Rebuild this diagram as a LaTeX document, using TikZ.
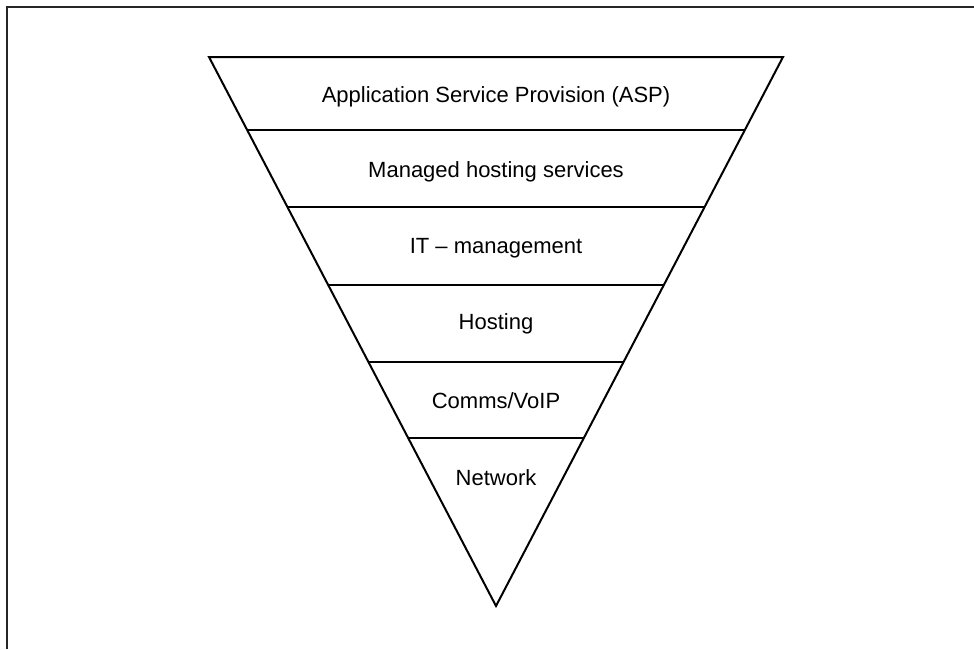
\documentclass[tikz,border=0pt]{standalone}
\usepackage{fontspec}
\setmainfont{Liberation Sans}
\usetikzlibrary{calc}
\begin{document}
\begin{tikzpicture}[x=1pt,y=-1pt,
  edge/.style={line width=2pt,line join=miter},
  frame/.style={line width=2pt,draw=black!85},
  lab/.style={font=\fontsize{22}{26}\selectfont,inner sep=0pt,anchor=center}]
\useasboundingbox (0,0) rectangle (974,649);
% frame (open on right and bottom)
\coordinate (f1) at (974,7);
\coordinate (f0) at (6.5,7);
\coordinate (f2) at (6.5,649);
\draw[frame] (f1) -- (f0) -- (f2);
% triangle
\coordinate (tl) at (209,57);
\coordinate (tr) at (783,57);
\coordinate (ap) at (496,606);
\draw[edge] (tl) -- (tr) -- (ap) -- cycle;
% band dividers
\foreach \t [count=\i] in {0.13297,0.27322,0.41530,0.55556,0.69399}{
  \coordinate (l\i) at ($(tl)!\t!(ap)$);
  \coordinate (r\i) at ($(tr)!\t!(ap)$);
  \draw[edge] (l\i) -- (r\i);
}
% labels
\node[lab] (asp) at (496,97) {Application Service Provision (ASP)};
\node[lab] (mhs) at (496,172) {Managed hosting services};
\node[lab] (itm) at (496,248) {IT – management};
\node[lab] (hst) at (496,324) {Hosting};
\node[lab] (com) at (496,401) {Comms/VoIP};
\node[lab] (net) at (496,478) {Network};
\end{tikzpicture}
\end{document}
